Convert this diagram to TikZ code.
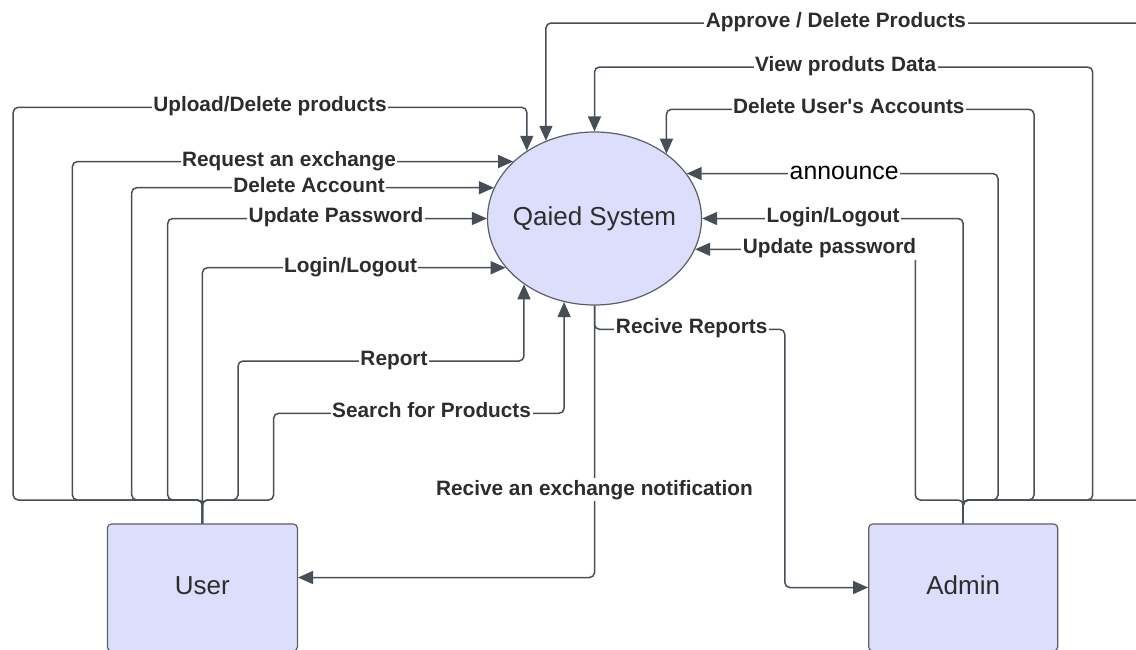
\documentclass[tikz,border=0pt]{standalone}
\usepackage{fontspec}
\setmainfont{Liberation Sans}
\newfontfamily\rawsans{Liberation Sans}
\usetikzlibrary{arrows.meta,shapes.geometric}
\definecolor{wire}{RGB}{72,78,87}
\definecolor{ink}{RGB}{45,45,45}
\definecolor{lav}{RGB}{221,221,252}
\definecolor{rim}{RGB}{92,94,104}

\begin{document}
\begin{tikzpicture}[x=1pt,y=-1pt,
  flow/.style={draw=wire, line width=1.5pt, rounded corners=5pt,
    -{Triangle[length=15pt,width=13pt]}},
  lbl/.style={fill=white, text=ink, font=\fontsize{20.8}{24}\selectfont\bfseries,
    inner xsep=1.5pt, inner ysep=2pt, anchor=base, yshift=-4.3pt},
  annc/.style={fill=white, text=black, font=\fontsize{24.8}{28}\selectfont,
    inner xsep=1.5pt, inner ysep=2pt, anchor=base, yshift=-6pt},
  entity/.style={draw=rim, fill=lav, line width=1.2pt, rounded corners=4pt,
    minimum height=127pt, inner sep=0pt},
  bigtext/.style={text=ink, font=\fontsize{26}{30}\selectfont, anchor=base, inner sep=0pt}]

\useasboundingbox (0,0) rectangle (1136,649);
\clip (0,0) rectangle (1136,649);

% process and external entities
\node[ellipse, draw=rim, fill=lav, line width=1.2pt, inner sep=0pt,
      minimum width=214pt, minimum height=173pt] (sys) at (594.5,218.5) {};
\node[entity, minimum width=190pt] (user)  at (202.4,587.5) {};
\node[entity, minimum width=189pt] (admin) at (963.2,587.5) {};
\node[bigtext] (systxt)   at (594.5,225) {Qaied System};
\node[bigtext] (usertxt)  at (202.4,594.5) {User};
\node[bigtext] (admintxt) at (963.2,594.5) {Admin};

% flows from the user
\draw[flow] (user.north) |- (13.2,500)  -- (13.2,107.3)  -| (sys.135.3);
\draw[flow] (user.north) |- (72.4,500)  |- (sys.145.35);
\draw[flow] (user.north) |- (131.7,500) |- (sys.163.2);
\draw[flow] (user.north) |- (167.7,500) |- (sys.180);
\draw[flow] (user.north) |- (sys.209.6);
\draw[flow] (user.north) |- (238,500)   -- (238,361)     -| (sys.223.4);
\draw[flow] (user.north) |- (273.6,500) -- (273.6,413.3) -| (sys.250.7);

% flows from the admin
\draw[flow] (admin.north) |- (1150,500)   -- (1150,23)     -| (sys.122.4);
\draw[flow] (admin.north) |- (1092.7,500) -- (1092.7,67)   -| (sys.90);
\draw[flow] (admin.north) |- (1034,500)   -- (1034,109.3)  -| (sys.42.4);
\draw[flow] (admin.north) |- (998,500)    |- (sys.26.4);
\draw[flow] (admin.north) |- (sys.0);
\draw[flow] (admin.north) |- (915.3,500)  |- (sys.-17.1);

% flows out of the system
\draw[flow] (sys.270) |- (784.8,329.3) |- (admin.west);
\draw[flow] (sys.270) |- ([yshift=10pt]user.east);

% flow labels
\node[lbl] (lupload)  at (270,107.3)   {Upload/Delete products};
\node[lbl] (lrequest) at (289,162.3)   {Request an exchange};
\node[lbl] (ldelacc)  at (309,188.3)   {Delete Account};
\node[lbl] (lupdpw)   at (336,218.5)   {Update Password};
\node[lbl] (lloginu)  at (350.5,268.3) {Login/Logout};
\node[lbl] (lreport)  at (394,361)     {Report};
\node[lbl] (lsearch)  at (431.6,413.3) {Search for Products};
\node[lbl] (lapprove) at (836,23)      {Approve / Delete Products};
\node[lbl] (lview)    at (845.6,67)    {View produts Data};
\node[lbl] (ldeluser) at (848.8,109.3) {Delete User{\rawsans\bfseries '}s Accounts};
\node[annc] (lannounce) at (844.2,173.3) {announce};
\node[lbl] (llogina)  at (833.1,218.5) {Login/Logout};
\node[lbl] (lupdpwa)  at (829.5,249.3) {Update password};
\node[lbl] (lreports) at (691.7,329.3) {Recive Reports};
\node[lbl] (lnotify)  at (594.5,490.7) {Recive an exchange notification};
\end{tikzpicture}
\end{document}
